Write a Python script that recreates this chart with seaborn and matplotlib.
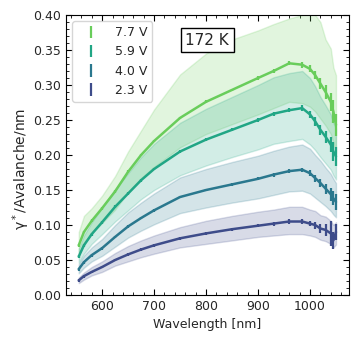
import numpy as np
import seaborn as sns
import matplotlib.pyplot as plt
from matplotlib.ticker import MultipleLocator

# wavelength grid (nm) shared by every series
wavelength = [555, 565, 580, 600, 625, 650, 675, 700, 750, 800, 850, 900,
              930, 960, 985, 1000, 1010, 1020, 1030, 1040, 1045, 1050]

labels = ["7.7 V", "5.9 V", "4.0 V", "2.3 V"]
volts = [7.7, 5.9, 4.0, 2.3]

# gamma* per avalanche per nm (centre values)
g77 = [.071, .090, .106, .124, .148, .176, .200, .220, .253, .276, .293, .310,
       .320, .331, .329, .323, .314, .302, .290, .276, .262, .243]
g59 = [.055, .071, .087, .104, .126, .145, .164, .180, .205, .222, .236, .250,
       .259, .264, .267, .258, .248, .236, .226, .215, .205, .198]
g40 = [.037, .047, .057, .067, .083, .098, .110, .121, .140, .150, .158, .166,
       .172, .177, .179, .174, .167, .160, .152, .144, .138, .133]
g23 = [.021, .027, .033, .040, .050, .058, .065, .071, .081, .088, .094, .099,
       .102, .105, .105, .102, .100, .095, .093, .088, .078, .090]

# systematic band, upper edge
hi77 = [.090, .113, .124, .142, .170, .205, .235, .265, .315, .345, .365, .378,
        .387, .395, .400, .405, .400, .390, .365, .352, .325, .314]
hi59 = [.066, .085, .104, .125, .151, .174, .197, .216, .246, .266, .283, .300,
        .311, .317, .320, .310, .298, .283, .271, .258, .246, .238]
hi40 = [.044, .056, .068, .080, .100, .118, .132, .145, .168, .180, .190, .199,
        .206, .212, .215, .209, .200, .192, .182, .173, .166, .160]
hi23 = [.025, .032, .040, .048, .060, .070, .078, .085, .097, .106, .113, .119,
        .122, .126, .126, .122, .120, .114, .112, .106, .100, .104]

# systematic band, lower edge
lo77 = [.059, .075, .088, .103, .122, .147, .167, .183, .211, .230, .244, .258,
        .267, .276, .274, .269, .262, .252, .242, .230, .218, .203]
lo59 = [.046, .059, .073, .087, .105, .121, .137, .150, .171, .185, .197, .208,
        .216, .220, .223, .215, .207, .197, .188, .179, .171, .165]
lo40 = [.031, .039, .048, .056, .069, .082, .092, .101, .117, .125, .132, .138,
        .143, .148, .149, .145, .139, .133, .127, .120, .115, .111]
lo23 = [.017, .022, .028, .033, .042, .048, .054, .059, .068, .073, .078, .083,
        .085, .087, .087, .085, .083, .079, .077, .073, .068, .072]

# statistical error bars
e77 = [.002, .002, .002, .002, .002, .002, .002, .002, .002, .002, .002, .003,
       .003, .003, .004, .005, .006, .008, .010, .013, .016, .016]
e59 = [.002, .002, .002, .002, .002, .002, .002, .002, .002, .002, .002, .003,
       .003, .003, .004, .005, .006, .007, .009, .011, .013, .014]
e40 = [.002, .002, .002, .002, .002, .002, .002, .002, .002, .002, .002, .002,
       .003, .003, .003, .004, .005, .006, .007, .009, .010, .011]
e23 = [.002, .002, .002, .002, .002, .002, .002, .002, .002, .002, .002, .002,
       .003, .003, .003, .004, .005, .006, .008, .018, .012, .012]

centres = [g77, g59, g40, g23]
uppers = [hi77, hi59, hi40, hi23]
lowers = [lo77, lo59, lo40, lo23]
errors = [e77, e59, e40, e23]

sns.set_style("ticks", {"xtick.direction": "in", "ytick.direction": "in"})
plt.rcParams["font.family"] = ["DejaVu Sans"]

fig = plt.figure(figsize=(3.6, 3.44), dpi=100)
ax = fig.add_axes([0.183, 0.1424, 0.786, 0.814])

cmap = plt.get_cmap("viridis")
for v, lo, hi in zip(volts, lowers, uppers):
    ax.fill_between(wavelength, lo, hi, color=cmap(v / 10), alpha=0.2)
for v, lab, y, err in zip(volts, labels, centres, errors):
    c = cmap(v / 10)
    sns.lineplot(x=wavelength, y=y, color=c, linewidth=1.8, ax=ax, legend=False)
    ax.errorbar(wavelength, y, yerr=err, fmt="none", ecolor=c, elinewidth=1.6,
                label=lab)

ax.set_ylim(0, 0.40)
ax.xaxis.set_major_locator(MultipleLocator(100))
ax.xaxis.set_minor_locator(MultipleLocator(20))
ax.yaxis.set_major_locator(MultipleLocator(0.05))
ax.yaxis.set_minor_locator(MultipleLocator(0.01))
ax.tick_params(which="both", direction="in", top=True, right=True,
               labelsize=9, color="black")
ax.tick_params(which="major", length=4)
ax.tick_params(which="minor", length=2)
for s in ax.spines.values():
    s.set_color("black")

ax.set_xlabel("Wavelength [nm]", fontsize=9, labelpad=4)
ax.set_ylabel("γ$^*$/Avalanche/nm", fontsize=10)
ax.yaxis.set_label_coords(-0.118, 0.45)

ax.legend(loc="upper left", fontsize=9, handlelength=2.2)
ax.text(0.50, 0.91, "172 K", transform=ax.transAxes, fontsize=11,
        ha="center", va="center",
        bbox=dict(boxstyle="square,pad=0.3", facecolor="white", edgecolor="black"))

fig.savefig("out.png", dpi=100)
